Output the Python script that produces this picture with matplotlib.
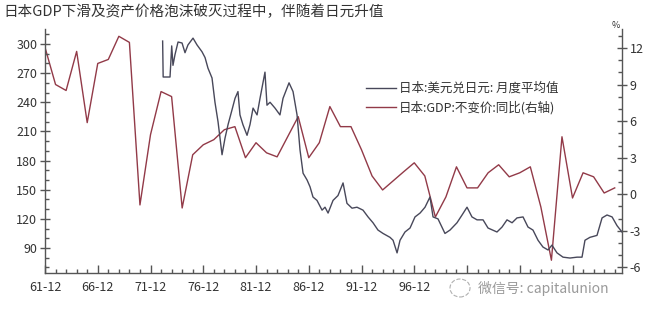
import matplotlib
matplotlib.use("Agg")
import matplotlib.pyplot as plt
from matplotlib.ticker import FixedLocator, MultipleLocator
from matplotlib.patches import Ellipse

plt.rcParams['font.family'] = ['Noto Sans CJK SC', 'DejaVu Sans']
plt.rcParams['axes.unicode_minus'] = False

title = "日本GDP下滑及资产价格泡沫破灭过程中，伴随着日元升值"
fx_label = "日本:美元兑日元: 月度平均值"
gdp_label = "日本:GDP:不变价:同比(右轴)"

# USD/JPY monthly average, decimal years
fx_time = [1973.10, 1973.15, 1973.80, 1973.96, 1974.08, 1974.27, 1974.56, 1974.94, 1975.22, 1975.50,
           1975.98, 1976.36, 1976.83, 1977.12, 1977.40, 1977.78, 1978.06, 1978.35, 1978.73, 1979.01,
           1979.30, 1979.67, 1979.96, 1980.24, 1980.43, 1980.71, 1981.10, 1981.38, 1981.67, 1982.05,
           1982.33, 1982.80, 1982.99, 1983.28, 1983.75, 1984.22, 1984.51, 1985.08, 1985.46, 1985.84,
           1986.12, 1986.41, 1986.79, 1987.07, 1987.35, 1987.73, 1988.21, 1988.49, 1988.78, 1989.25,
           1989.72, 1990.20, 1990.57, 1991.05, 1991.52, 1992.09, 1992.57, 1993.04, 1993.51, 1993.99,
           1994.65, 1994.94, 1995.32, 1995.60, 1996.07, 1996.55, 1997.02, 1997.50, 1997.97, 1998.44,
           1998.73, 1999.20, 1999.86, 2000.34, 2001.00, 2001.48, 2001.95, 2002.42, 2002.90, 2003.47,
           2003.94, 2004.79, 2005.27, 2005.74, 2006.22, 2006.69, 2007.26, 2007.73, 2008.20, 2008.68,
           2009.15, 2009.63, 2010.00, 2010.48, 2011.05, 2011.71, 2012.38, 2012.85, 2013.13, 2013.60,
           2014.27, 2014.75, 2015.22, 2015.70, 2016.17, 2016.64]
fx_value = [303, 266, 266, 298, 278, 289, 302, 301, 291, 299,
            306, 299, 292, 286, 275, 265, 240, 220, 186, 203,
            217, 232, 244, 251, 227, 217, 206, 217, 234, 227,
            244, 271, 237, 240, 234, 227, 244, 260, 251, 227,
            191, 167, 160, 153, 142.5, 139, 129, 132, 126, 139,
            144, 157, 136, 131, 132, 129, 122, 116, 108.5, 105,
            101, 98, 85, 98, 106.5, 110.6, 122, 126, 132, 142.5,
            122, 120, 105, 108.5, 116, 124, 132, 122, 119, 119,
            110.6, 106.5, 111.6, 119, 116, 121, 122, 111.6, 108.5, 98,
            91, 88, 93, 85, 80.6, 79.7, 80.6, 80.6, 98, 101,
            103, 121, 124, 122, 113, 106.5]

# Japan real GDP growth, yoy %, annual (plotted at December)
gdp_year = list(range(1961, 2016))
gdp_value = [12.06, 9.01, 8.52, 11.73, 5.88, 10.74, 11.07, 12.97, 12.47, -0.88,
             4.89, 8.43, 8.02, -1.13, 3.24, 4.06, 4.48, 5.30, 5.55, 3.00,
             4.23, 3.40, 3.07, 4.72, 6.37, 3.00, 4.23, 7.20, 5.55, 5.55,
             3.65, 1.50, 0.35, 1.10, 1.85, 2.58, 1.50, -1.87, -0.22, 2.25,
             0.52, 0.52, 1.76, 2.42, 1.43, 1.76, 2.25, -1.05, -5.42, 4.72,
             -0.31, 1.76, 1.43, 0.10, 0.52]

xtick_labels = ["61-12", "66-12", "71-12", "76-12", "81-12", "86-12",
                "91-12", "96-12", "01-12", "06-12", "11-12"]
# the last three labels are hidden under the watermark in the original
n_visible_labels = 8

W, H = 672, 315
fig = plt.figure(figsize=(W / 100, H / 100), dpi=100)
fig.patch.set_facecolor('white')
L, R, B, T = 45, 622, 273, 29
ax = fig.add_axes([L / W, 1 - B / H, (R - L) / W, (B - T) / H])
ax2 = ax.twinx()

fx_color = '#48485a'
gdp_color = '#923a48'
axis_color = '#555555'
text_color = '#333333'

l1, = ax.plot(fx_time, fx_value, color=fx_color, lw=1.0, label=fx_label)
gdp_x = [y + 0.95 for y in gdp_year]
l2, = ax2.plot(gdp_x, gdp_value, color=gdp_color, lw=1.0, label=gdp_label)

ax.set_xlim(1961.95, 2016.64)
ax.set_ylim(64.3, 315.4)
ax2.set_ylim(-6.47, 13.57)

ax.set_zorder(ax2.get_zorder() + 1)
ax.patch.set_visible(False)

for a in (ax, ax2):
    a.spines['top'].set_visible(False)
    for s in ('left', 'right', 'bottom'):
        a.spines[s].set_color(axis_color)
        a.spines[s].set_linewidth(1.0)

ax.spines['right'].set_visible(False)
ax2.spines['left'].set_visible(False)
ax2.spines['bottom'].set_visible(False)

major_x = [1961.95 + 5 * i for i in range(len(xtick_labels))]
minor_x = [1961.95 + i for i in range(55)]
ax.xaxis.set_major_locator(FixedLocator(major_x))
ax.xaxis.set_minor_locator(FixedLocator(minor_x))
shown = [lab if i < n_visible_labels else '' for i, lab in enumerate(xtick_labels)]
ax.set_xticklabels(shown)

ax.yaxis.set_major_locator(FixedLocator([90, 120, 150, 180, 210, 240, 270, 300]))
ax.yaxis.set_minor_locator(MultipleLocator(10))
ax2.yaxis.set_major_locator(FixedLocator([-6, -3, 0, 3, 6, 9, 12]))
ax2.yaxis.set_minor_locator(MultipleLocator(1))

ax.tick_params(axis='x', which='major', direction='in', length=6, width=1, color=axis_color,
               labelsize=9, labelcolor=text_color, pad=6)
ax.tick_params(axis='x', which='minor', direction='in', length=3, width=1, color=axis_color)
ax.tick_params(axis='y', which='major', direction='inout', length=7, width=1, color=axis_color,
               labelsize=9, labelcolor=text_color, pad=2)
ax.tick_params(axis='y', which='minor', direction='in', length=3, width=1, color=axis_color)
ax2.tick_params(axis='y', which='major', direction='inout', length=7, width=1, color=axis_color,
                labelsize=9, labelcolor=text_color, pad=2)
ax2.tick_params(axis='y', which='minor', direction='in', length=3, width=1, color=axis_color)
ax2.set_yticklabels(['-6', '-3', '0', '3', '6', '9', '12'])

fig.text((R - 6) / W, 1 - 26 / H, "%", fontsize=6.5, color=text_color, ha='center', va='center')

leg = ax.legend(handles=[l1, l2], loc='upper left', bbox_to_anchor=((366 - L) / (R - L), (B - 82) / (B - T)),
                frameon=False, fontsize=9, handlelength=2.4, handletextpad=0.25,
                labelspacing=0.45, borderaxespad=0, borderpad=0)
for t in leg.get_texts():
    t.set_color(text_color)

fig.text(3 / W, 1 - 12 / H, title, fontsize=10.5, color=text_color, ha='left', va='center')

# watermark
fig.text(478 / W, 1 - 289 / H, "微信号: capitalunion", fontsize=10, color='#9a9a9a',
         ha='left', va='center',
         bbox=dict(facecolor='white', edgecolor='none', pad=1.5))
fig.patches.append(Ellipse((460 / W, 1 - 288 / H), 20 / W, 18 / H, transform=fig.transFigure,
                           facecolor='white', edgecolor='#b0b0b0', lw=0.8, ls='--'))

fig.savefig("out.png", dpi=100, facecolor='white')
